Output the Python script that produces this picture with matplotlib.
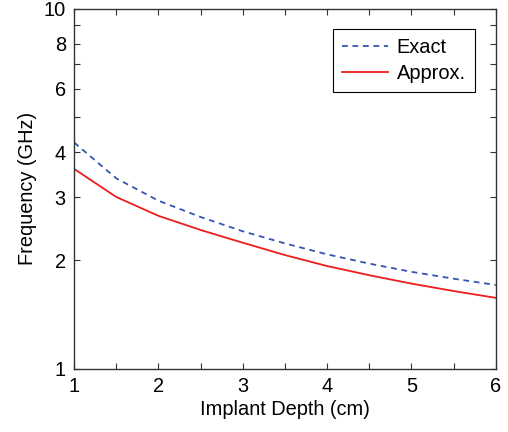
import numpy as np
import matplotlib.pyplot as plt

plt.rcParams['font.family'] = ['Liberation Sans', 'DejaVu Sans']

depth = [1.0, 1.5, 2.0, 2.5, 3.0, 3.5, 4.0, 4.5, 5.0, 5.5, 6.0]
exact = [4.25, 3.38, 2.93, 2.64, 2.41, 2.23, 2.08, 1.96, 1.86, 1.78, 1.71]
approx = [3.59, 3.00, 2.66, 2.43, 2.24, 2.07, 1.93, 1.82, 1.725, 1.645, 1.575]

ytick_vals = [1, 2, 3, 4, 5, 6, 7, 8, 9, 10]
ytick_labels = ['1', '2', '3', '4', '', '6', '', '8', '', '10']

FS = 14.4


def plot_freq(out_file):
	fig = plt.figure(figsize=(5.08, 4.32), dpi=100)
	ax = fig.add_axes([0.146, 0.146, 0.830, 0.834])
	ax.plot(depth, exact, color='#3355b0', lw=1.3, linestyle=(0, (3.2, 2.6)), label='Exact')
	ax.plot(depth, approx, color='#ee1c1c', lw=1.3, label='Approx.')
	ax.set_yscale('log')
	ax.set_xlim(1, 6)
	ax.set_ylim(1, 10)
	ax.set_yticks(ytick_vals)
	ax.set_yticklabels(ytick_labels)
	ax.yaxis.set_minor_locator(plt.NullLocator())
	ax.set_xticks([1, 2, 3, 4, 5, 6])
	ax.set_xticks(np.arange(1.5, 6, 1.0), minor=True)
	ax.tick_params(which='both', direction='in', top=True, right=True,
		labelsize=FS, length=4, width=0.8, color='#333333', pad=6)
	for s in ax.spines.values():
		s.set_color('#333333')
		s.set_linewidth(1.0)
	ax.set_xlabel('Implant Depth (cm)', fontsize=FS, labelpad=3)
	ax.set_ylabel('Frequency (GHz)', fontsize=FS, labelpad=5)
	leg = ax.legend(loc='upper right', bbox_to_anchor=(0.950, 0.943), fontsize=FS,
		fancybox=False, framealpha=1, edgecolor='black', handlelength=2.3,
		borderpad=0.45, labelspacing=0.35, handletextpad=0.45, borderaxespad=0)
	leg.get_frame().set_linewidth(0.8)
	fig.savefig(out_file, dpi=100)
	return fig


plot_freq('out.png')
